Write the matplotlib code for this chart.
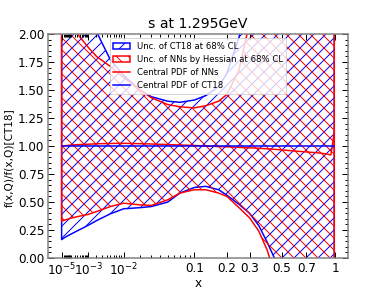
import numpy as np
from matplotlib import pyplot as plt
from matplotlib.ticker import MultipleLocator

# sampled x grid shared by all curves
x = [1e-5, 3e-5, 1e-4, 3e-4, 1e-3, 2e-3, 5e-3, 1e-2, 2e-2, 3e-2, 5e-2, 7e-2,
     0.1, 0.13, 0.17, 0.2, 0.25, 0.3, 0.35, 0.4, 0.45, 0.5, 0.6, 0.7, 0.8,
     0.9, 0.95, 0.99]

# CT18 68% CL band (ratio to CT18 central)
ct18_hi = [4.5, 3.8, 3.0, 2.6, 2.25, 2.02, 1.77, 1.63, 1.50, 1.44, 1.40, 1.39,
           1.41, 1.45, 1.53, 1.65, 1.97, 2.4, 3.0, 3.8, 4.5, 5.0, 6.0, 7.0,
           8.0, 9.0, 9.5, 10.0]
ct18_lo = [0.165, 0.186, 0.212, 0.244, 0.293, 0.334, 0.395, 0.44, 0.45, 0.46,
           0.50, 0.58, 0.63, 0.64, 0.61, 0.56, 0.48, 0.40, 0.29, 0.14, -0.01,
           -0.2, -0.5, -1.0, -1.5, -2.0, -3.0, -4.0]

# NNs Hessian 68% CL band
nn_hi = [3.5, 2.8, 2.3, 2.0, 1.88, 1.80, 1.71, 1.61, 1.50, 1.43, 1.37, 1.35,
         1.34, 1.36, 1.40, 1.46, 1.68, 2.1, 2.7, 3.5, 4.2, 5.0, 6.0, 7.0,
         8.0, 9.0, 9.5, 10.0]
nn_lo = [0.33, 0.34, 0.355, 0.37, 0.39, 0.415, 0.46, 0.49, 0.475, 0.47,
         0.52, 0.58, 0.61, 0.61, 0.58, 0.55, 0.45, 0.36, 0.24, 0.07, -0.15,
         -0.4, -0.8, -1.2, -1.6, -2.0, -3.0, -4.0]

# central curves
nn_central = [1.0, 1.003, 1.008, 1.012, 1.016, 1.02, 1.023, 1.024, 1.021,
              1.018, 1.013, 1.009, 1.005, 1.0, 0.995, 0.993, 0.988, 0.984,
              0.98, 0.975, 0.97, 0.965, 0.955, 0.947, 0.94, 0.93, 0.92, 1.12]
ct18_central = [1.0] * len(x)

x_major = [1e-5, 1e-3, 1e-2, 0.1, 0.2, 0.3, 0.5, 0.7, 1.0]
x_major_labels = ['$10^{-5}$', '$10^{-3}$', '$10^{-2}$', '0.1', '0.2', '0.3',
                  '0.5', '0.7', '1']
x_minor = [k * 10.0 ** e for e in (-5, -4, -3, -2) for k in range(1, 10)
           if k * 10.0 ** e not in x_major]


def fwd(v):
    v = np.asarray(v, dtype=float)
    return np.sign(v) * np.abs(v) ** 0.3


def inv(v):
    v = np.asarray(v, dtype=float)
    return np.sign(v) * np.abs(v) ** (1 / 0.3)


fig = plt.figure(figsize=(387 / 72, 290 / 72), dpi=72)
ax = fig.add_axes([0.124, 0.110, 0.775, 0.773])
ax.set_xscale('function', functions=(fwd, inv))

ct_band = ax.fill_between(x, ct18_lo, ct18_hi, facecolor='none', edgecolor='blue',
                          hatch='//', linewidth=1.5)
nn_band = ax.fill_between(x, nn_lo, nn_hi, facecolor='none', edgecolor='red',
                          hatch='\\\\', linewidth=1.5)
nn_line, = ax.plot(x, nn_central, color='red', linewidth=1.5)
ct_line, = ax.plot(x, ct18_central, color='blue', linewidth=1.5)

# 5% padding in the transformed coordinates
lo, hi = fwd(x[0]), fwd(x[-1])
pad = 0.05 * (hi - lo)
ax.set_xlim(inv(lo - pad), inv(hi + pad))
ax.set_ylim(0, 2)

ax.set_xticks(x_major, x_major_labels)
ax.set_xticks(x_minor, minor=True)
ax.set_yticks(np.arange(0, 2.01, 0.25))
ax.yaxis.set_minor_locator(MultipleLocator(0.05))
ax.tick_params(which='both', direction='in', top=True, right=True, labelsize=12)
ax.tick_params(which='major', length=6, width=1)
ax.tick_params(which='minor', length=3, width=1)
for s in ax.spines.values():
    s.set_color('#808080')
    s.set_linewidth(1.5)

ax.set_title('s at 1.295GeV', fontsize=14)
ax.set_xlabel('x', fontsize=12, labelpad=-1)
ax.set_ylabel('f(x,Q)/f(x,Q)[CT18]', fontsize=10.5)
ax.yaxis.set_label_coords(-0.113, 0.45)
ax.legend([ct_band, nn_band, nn_line, ct_line],
          ['Unc. of CT18 at 68% CL', 'Unc. of NNs by Hessian at 68% CL',
           'Central PDF of NNs', 'Central PDF of CT18'],
          loc='upper center', fontsize=8.5)

fig.savefig('out.png', dpi=72)
